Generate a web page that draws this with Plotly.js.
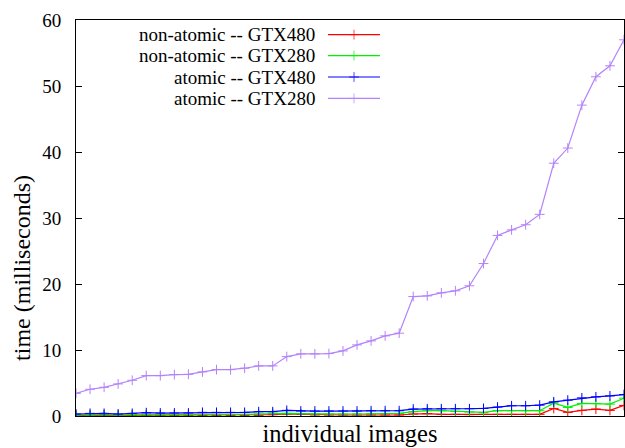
<!DOCTYPE html>
<html>
<head>
<meta charset="utf-8">
<script src="https://cdn.plot.ly/plotly-3.0.1.min.js"></script>
<style>html,body{margin:0;padding:0;background:#fff;}#chart{width:625px;height:448px;}</style>
</head>
<body>
<div id="chart"></div>
<script>
const seriesNames = ["non-atomic -- GTX480", "non-atomic -- GTX280", "atomic -- GTX480", "atomic -- GTX280"];
const seriesColors = ["#ff0000", "#00f000", "#0000ff", "#b383fb"];

const nonAtomic480 = [0.1,0.1,0.1,0.1,0.1,0.1,0.1,0.1,0.1,0.1, 0.1,0.1,0.1,0.1,0.2,0.3,0.25,0.15,0.15,0.15,
  0.15,0.15,0.15,0.15,0.3,0.35,0.25,0.25,0.2,0.25, 0.25,0.25,0.25,0.25,1.15,0.55,0.85,1.05,0.85,1.6];
const nonAtomic280 = [0.15,0.15,0.2,0.15,0.2,0.2,0.2,0.2,0.2,0.25, 0.25,0.25,0.25,0.3,0.4,0.4,0.35,0.3,0.3,0.3,
  0.3,0.35,0.35,0.4,0.65,0.8,0.8,0.7,0.6,0.55, 0.8,0.8,0.8,0.8,1.95,1.3,1.9,1.9,1.8,2.7];
const atomic480 = [0.3,0.4,0.4,0.3,0.4,0.5,0.45,0.45,0.45,0.55, 0.55,0.55,0.55,0.65,0.65,0.85,0.75,0.75,0.75,0.75,
  0.75,0.8,0.8,0.8,1.05,1.1,1.1,1.1,1.1,1.15, 1.35,1.55,1.55,1.65,2.15,2.4,2.75,2.9,3.05,3.25];
const atomic280 = [3.44,4.05,4.35,4.86,5.41,6.12,6.12,6.27,6.32,6.68, 7.03,7.03,7.24,7.59,7.59,9.0,9.41,9.41,9.46,9.86,
  10.77,11.38,12.14,12.55,18.1,18.2,18.66,18.97,19.73,23.1, 27.36,28.2,28.98,30.55,38.3,40.6,47.1,51.4,53.06,57.0];

const imageIndex = atomic280.map((_, i) => i);
const yTicks = [0, 10, 20, 30, 40, 50, 60];
const allSeries = [nonAtomic480, nonAtomic280, atomic480, atomic280];
const xTitle = "individual images";
const yTitle = "time (milliseconds)";

const FONT = "Liberation Serif";

const traces = allSeries.map((vals, k) => ({
  x: imageIndex, y: vals, type: "scatter", mode: "lines+markers",
  name: seriesNames[k], showlegend: false,
  line: {color: seriesColors[k], width: 1.2},
  marker: {symbol: "cross-thin", size: 7, line: {color: seriesColors[k], width: 1}},
  hoverinfo: "skip"
}));

const keyRowsY = [0.963, 0.910, 0.856, 0.802];
const annotations = [];
seriesNames.forEach((name, k) => {
  traces.push({
    x: [0.4599, 0.5073, 0.5547], y: [keyRowsY[k], keyRowsY[k], keyRowsY[k]],
    xaxis: "x2", yaxis: "y2", type: "scatter", mode: "lines+markers", showlegend: false,
    line: {color: seriesColors[k], width: 1.2},
    marker: {symbol: "cross-thin", size: [0, 7, 0], line: {color: seriesColors[k], width: 1}},
    hoverinfo: "skip"
  });
  annotations.push({
    xref: "paper", yref: "paper", x: 0.4398, y: keyRowsY[k], xanchor: "right", yanchor: "middle",
    text: name, showarrow: false, font: {family: FONT, size: 19, color: "#000"}
  });
});
annotations.push({
  xref: "paper", yref: "paper", x: -0.0985, y: 0.374, xanchor: "center", yanchor: "middle",
  textangle: -90, text: yTitle, showarrow: false, font: {family: FONT, size: 24, color: "#000"}
});

const layout = {
  width: 625, height: 448,
  margin: {l: 76, r: 1, t: 20, b: 32, pad: 0},
  paper_bgcolor: "#fff", plot_bgcolor: "#fff",
  font: {family: FONT, size: 18, color: "#000"},
  xaxis: {
    range: [0, imageIndex.length - 1], showgrid: false, zeroline: false,
    showline: true, mirror: true, linecolor: "#000", linewidth: 1,
    showticklabels: false, ticks: "",
    title: {text: xTitle, font: {family: FONT, size: 24.5, color: "#000"}, standoff: 8}
  },
  yaxis: {
    range: [0, 60], tickvals: yTicks, ticktext: yTicks.map(String),
    showgrid: false, zeroline: false,
    showline: true, mirror: "ticks", linecolor: "#000", linewidth: 1,
    ticks: "inside", ticklen: 6, tickcolor: "#000", tickwidth: 1,
    ticklabelstandoff: 10,
    tickfont: {family: FONT, size: 19, color: "#000"}
  },
  xaxis2: {overlaying: "x", range: [0, 1], visible: false, fixedrange: true},
  yaxis2: {overlaying: "y", range: [0, 1], visible: false, fixedrange: true},
  annotations: annotations,
  showlegend: false
};

Plotly.newPlot("chart", traces, layout, {staticPlot: true, displayModeBar: false});
</script>
</body>
</html>
